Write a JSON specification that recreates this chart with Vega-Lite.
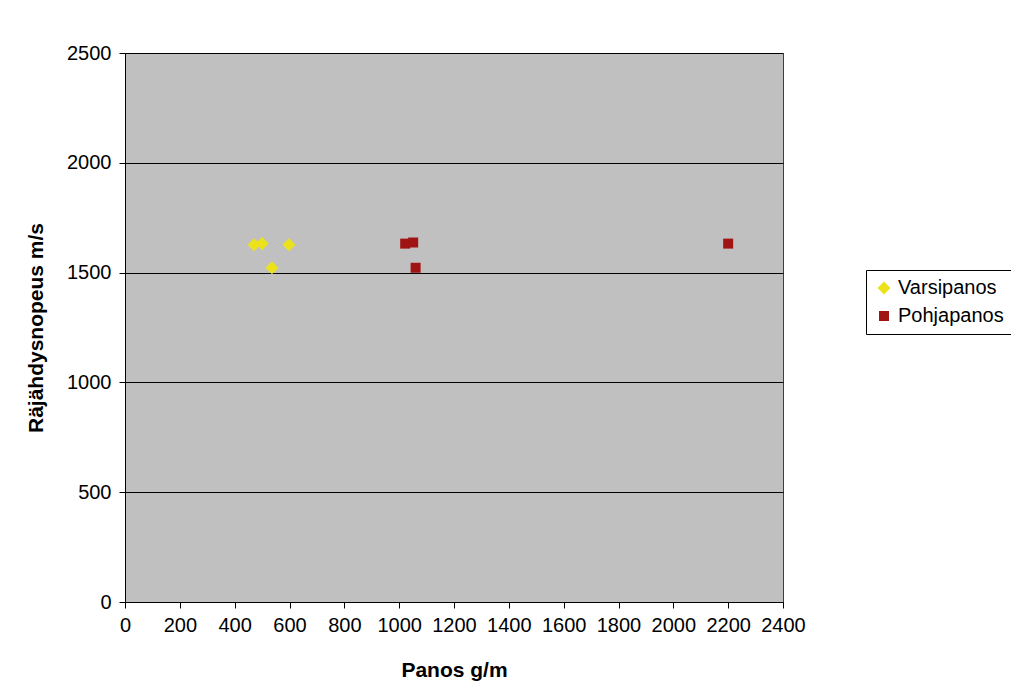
{
  "$schema": "https://vega.github.io/schema/vega-lite/v6.json",
  "width": 658,
  "height": 549,
  "autosize": {"type": "none"},
  "padding": {"left": 125, "top": 53, "right": 228, "bottom": 93},
  "background": "#ffffff",
  "config": {
    "font": "Liberation Sans",
    "view": {"fill": "#c0c0c0", "stroke": "#404040", "strokeWidth": 1}
  },
  "data": {
    "values": [
      {"panos": 471, "nopeus": 1627, "sarja": "Varsipanos"},
      {"panos": 500, "nopeus": 1632, "sarja": "Varsipanos"},
      {"panos": 598, "nopeus": 1627, "sarja": "Varsipanos"},
      {"panos": 536, "nopeus": 1522, "sarja": "Varsipanos"},
      {"panos": 1022, "nopeus": 1632, "sarja": "Pohjapanos"},
      {"panos": 1051, "nopeus": 1637, "sarja": "Pohjapanos"},
      {"panos": 1060, "nopeus": 1522, "sarja": "Pohjapanos"},
      {"panos": 2200, "nopeus": 1632, "sarja": "Pohjapanos"}
    ]
  },
  "mark": {"type": "point", "filled": true, "opacity": 1},
  "encoding": {
    "x": {
      "field": "panos", "type": "quantitative",
      "scale": {"domain": [0, 2400], "nice": false},
      "axis": {
        "title": "Panos g/m", "values": [0,200,400,600,800,1000,1200,1400,1600,1800,2000,2200,2400],
        "format": "d", "labelOverlap": false, "labelFlush": false,
        "grid": false, "domainColor": "#000000", "tickColor": "#000000", "tickSize": 6,
        "labelFontSize": 20, "labelColor": "#000000", "labelPadding": 7,
        "titleFontSize": 21, "titleFontWeight": "bold", "titleColor": "#000000", "titlePadding": 24
      }
    },
    "y": {
      "field": "nopeus", "type": "quantitative",
      "scale": {"domain": [0, 2500], "nice": false},
      "axis": {
        "title": "Räjähdysnopeus m/s", "values": [0,500,1000,1500,2000,2500],
        "format": "d", "labelOverlap": false, "labelFlush": false,
        "grid": true, "gridColor": "#000000", "gridOpacity": 1, "gridWidth": 1,
        "domainColor": "#000000", "tickColor": "#000000", "tickSize": 6,
        "labelFontSize": 20, "labelColor": "#000000", "labelPadding": 8,
        "titleFontSize": 21, "titleFontWeight": "bold", "titleColor": "#000000", "titlePadding": 20
      }
    },
    "color": {
      "field": "sarja", "type": "nominal",
      "scale": {"domain": ["Varsipanos", "Pohjapanos"], "range": ["#ece21c", "#a01414"]},
      "legend": {
        "title": null, "orient": "none", "legendX": 741, "legendY": 217,
        "labelFontSize": 20, "labelColor": "#000000",
        "strokeColor": "#000000", "fillColor": "#ffffff", "padding": 8,
        "symbolSize": 70, "rowPadding": 8
      }
    },
    "shape": {
      "field": "sarja", "type": "nominal",
      "scale": {"domain": ["Varsipanos", "Pohjapanos"], "range": ["diamond", "square"]},
      "legend": null
    },
    "size": {
      "field": "sarja", "type": "nominal",
      "scale": {"domain": ["Varsipanos", "Pohjapanos"], "range": [170, 100]},
      "legend": null
    }
  }
}
